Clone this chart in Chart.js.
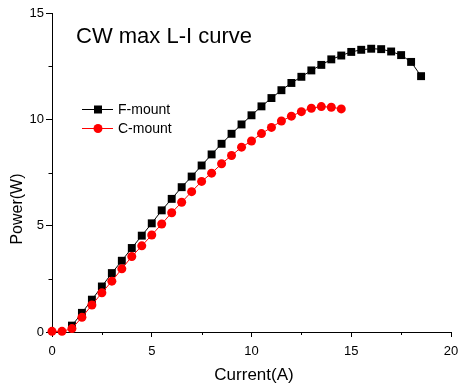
<!DOCTYPE html>
<html>
<head>
<meta charset="utf-8">
<script src="https://cdn.jsdelivr.net/npm/chart.js@4.4.0/dist/chart.umd.min.js"></script>
<style>
  html, body { margin: 0; padding: 0; background: #fff; }
  #wrap { width: 459px; height: 383px; }
</style>
</head>
<body>
<div id="wrap"><canvas id="liChart" width="459" height="383"></canvas></div>
<script>
// F-mount series
const currentF = [1, 1.5, 2, 2.5, 3, 3.5, 4, 4.5, 5, 5.5, 6, 6.5, 7, 7.5, 8, 8.5, 9, 9.5,
                  10, 10.5, 11, 11.5, 12, 12.5, 13, 13.5, 14, 14.5, 15, 15.5, 16, 16.5, 17, 17.5, 18, 18.5];
const powerF = [0.3, 0.9, 1.52, 2.14, 2.77, 3.35, 3.95, 4.53, 5.11, 5.72, 6.26, 6.81, 7.31, 7.83, 8.35, 8.85, 9.32, 9.76,
                10.19, 10.61, 11.0, 11.37, 11.71, 12.0, 12.3, 12.56, 12.82, 13.0, 13.17, 13.27, 13.32, 13.3, 13.19, 13.02, 12.7, 12.03];

// C-mount series
const currentC = [0, 0.5, 1, 1.5, 2, 2.5, 3, 3.5, 4, 4.5, 5, 5.5, 6, 6.5, 7, 7.5, 8, 8.5, 9, 9.5,
                  10, 10.5, 11, 11.5, 12, 12.5, 13, 13.5, 14, 14.5];
const powerC = [0.03, 0.03, 0.16, 0.69, 1.27, 1.84, 2.39, 2.97, 3.55, 4.05, 4.56, 5.08, 5.61, 6.1, 6.6, 7.08, 7.47, 7.91, 8.3, 8.69,
                8.98, 9.33, 9.62, 9.92, 10.15, 10.36, 10.52, 10.6, 10.57, 10.49];

const xTicks = [0, 5, 10, 15, 20];
const yTicks = [0, 5, 10, 15];
const xMinor = [2.5, 7.5, 12.5, 17.5];
const yMinor = [2.5, 7.5, 12.5];

const FONT = "'Liberation Sans', Arial, sans-serif";

// title, legend, axis titles and minor ticks
const overlayPlugin = {
    id: 'overlay',
    afterDraw(chart) {
        const ctx = chart.ctx;
        const xs = chart.scales.x;
        const ys = chart.scales.y;
        ctx.save();

        // minor ticks
        ctx.strokeStyle = '#000';
        ctx.lineWidth = 1;
        ctx.beginPath();
        xMinor.forEach(v => {
            const px = Math.round(xs.getPixelForValue(v)) + 0.5;
            ctx.moveTo(px, xs.top);
            ctx.lineTo(px, xs.top + 3);
        });
        yMinor.forEach(v => {
            const py = Math.round(ys.getPixelForValue(v)) + 0.5;
            ctx.moveTo(ys.right, py);
            ctx.lineTo(ys.right - 3.5, py);
        });
        ctx.stroke();

        ctx.fillStyle = '#000';
        ctx.textAlign = 'left';
        ctx.textBaseline = 'alphabetic';
        ctx.font = '22px ' + FONT;
        ctx.fillText('CW max L-I curve', 76, 43);

        // legend
        ctx.font = '14px ' + FONT;
        ctx.beginPath();
        ctx.moveTo(82, 109.5);
        ctx.lineTo(113, 109.5);
        ctx.stroke();
        ctx.fillRect(94, 105.5, 8, 8);
        ctx.fillText('F-mount', 118, 114);

        ctx.strokeStyle = '#ff0000';
        ctx.fillStyle = '#ff0000';
        ctx.beginPath();
        ctx.moveTo(82, 128.5);
        ctx.lineTo(113, 128.5);
        ctx.stroke();
        ctx.beginPath();
        ctx.arc(98, 128.5, 4.5, 0, Math.PI * 2);
        ctx.fill();
        ctx.fillStyle = '#000';
        ctx.fillText('C-mount', 118, 133);

        // axis titles
        ctx.textAlign = 'center';
        ctx.font = '17px ' + FONT;
        ctx.fillText('Current(A)', 254, 380);

        ctx.translate(18, 209);
        ctx.rotate(-Math.PI / 2);
        ctx.textBaseline = 'middle';
        ctx.font = '16px ' + FONT;
        ctx.fillText('Power(W)', 0, 0);

        ctx.restore();
    }
};

new Chart(document.getElementById('liChart'), {
    type: 'line',
    data: {
        datasets: [
            {
                label: 'F-mount',
                data: currentF.map((x, i) => ({ x: x, y: powerF[i] })),
                borderColor: '#000000',
                backgroundColor: '#000000',
                borderWidth: 1,
                pointStyle: 'rect',
                pointRadius: 5.6,
                pointBorderWidth: 0,
                pointBackgroundColor: '#000000',
                tension: 0,
                clip: false,
                order: 2
            },
            {
                label: 'C-mount',
                data: currentC.map((x, i) => ({ x: x, y: powerC[i] })),
                borderColor: '#ff0000',
                backgroundColor: '#ff0000',
                borderWidth: 1,
                pointStyle: 'circle',
                pointRadius: 4.5,
                pointBorderWidth: 0,
                pointBackgroundColor: '#ff0000',
                tension: 0,
                clip: false,
                order: 1
            }
        ]
    },
    options: {
        responsive: false,
        devicePixelRatio: 1,
        animation: false,
        layout: { padding: { left: 0, right: 8, top: 13, bottom: 0 } },
        plugins: {
            legend: { display: false },
            title: { display: false },
            tooltip: { enabled: false }
        },
        scales: {
            x: {
                type: 'linear',
                min: 0,
                max: 20,
                afterFit: scale => {
                    scale.height = 51;
                    scale.paddingLeft = 0;
                    scale.paddingRight = 0;
                },
                afterBuildTicks: scale => { scale.ticks = xTicks.map(v => ({ value: v })); },
                border: { display: true, color: '#000', width: 1 },
                grid: { display: true, drawOnChartArea: false, drawTicks: true, tickLength: 5, color: '#000' },
                ticks: { color: '#000', font: { family: FONT, size: 13 }, padding: 7, maxRotation: 0 }
            },
            y: {
                type: 'linear',
                min: 0,
                max: 15,
                afterFit: scale => {
                    scale.width = 52;
                    scale.paddingTop = 0;
                    scale.paddingBottom = 0;
                },
                afterBuildTicks: scale => { scale.ticks = yTicks.map(v => ({ value: v })); },
                border: { display: true, color: '#000', width: 1 },
                grid: { display: true, drawOnChartArea: false, drawTicks: true, tickLength: 6, color: '#000' },
                ticks: { color: '#000', font: { family: FONT, size: 13 }, padding: 2 }
            }
        }
    },
    plugins: [overlayPlugin]
});
</script>
</body>
</html>
